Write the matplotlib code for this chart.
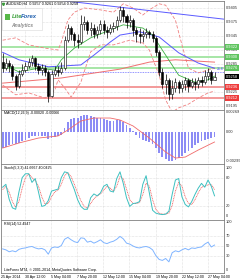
import matplotlib
matplotlib.use("Agg")
import matplotlib.pyplot as plt
from matplotlib.patches import Rectangle
from matplotlib.transforms import blended_transform_factory

plt.rcParams['font.family'] = ['Liberation Sans', 'DejaVu Sans']

# AUDUSD H4 - each candle here covers two H4 bars
first_open = 0.9290
closes = [0.9276, 0.9287, 0.9281, 0.9259, 0.9238, 0.9264, 0.9272, 0.9281, 0.9289, 0.9298,
          0.9281, 0.9272, 0.9276, 0.9268, 0.9216, 0.9264, 0.9272, 0.9268, 0.9276, 0.9336,
          0.9362, 0.9349, 0.9336, 0.9332, 0.9371, 0.9375, 0.9358, 0.9362, 0.9349, 0.9358,
          0.9371, 0.9358, 0.9354, 0.9362, 0.9366, 0.9379, 0.9401, 0.9388, 0.9375, 0.9379,
          0.9358, 0.9349, 0.9345, 0.9349, 0.9354, 0.9349, 0.9341, 0.9311, 0.9268, 0.9242,
          0.9251, 0.9221, 0.9234, 0.9246, 0.9234, 0.9242, 0.9251, 0.9238, 0.9246, 0.9242,
          0.9251, 0.9246, 0.9259, 0.9268, 0.9251, 0.9258]
highs = [0.9309, 0.9298, 0.9294, 0.9285, 0.9264, 0.9272, 0.9285, 0.9289, 0.9298, 0.9304,
         0.9300, 0.9287, 0.9285, 0.9283, 0.9272, 0.9272, 0.9281, 0.9281, 0.9289, 0.9345,
         0.9371, 0.9366, 0.9354, 0.9349, 0.9390, 0.9388, 0.9379, 0.9375, 0.9371, 0.9366,
         0.9379, 0.9379, 0.9366, 0.9371, 0.9375, 0.9388, 0.9409, 0.9407, 0.9392, 0.9390,
         0.9384, 0.9364, 0.9362, 0.9358, 0.9362, 0.9358, 0.9356, 0.9345, 0.9315, 0.9276,
         0.9264, 0.9255, 0.9251, 0.9255, 0.9251, 0.9251, 0.9257, 0.9255, 0.9255, 0.9255,
         0.9257, 0.9259, 0.9272, 0.9276, 0.9272, 0.9268]
lows = [0.9268, 0.9272, 0.9268, 0.9251, 0.9229, 0.9234, 0.9259, 0.9268, 0.9276, 0.9281,
        0.9272, 0.9264, 0.9261, 0.9259, 0.9204, 0.9214, 0.9259, 0.9259, 0.9264, 0.9272,
        0.9332, 0.9336, 0.9324, 0.9319, 0.9328, 0.9358, 0.9349, 0.9345, 0.9341, 0.9341,
        0.9349, 0.9349, 0.9341, 0.9349, 0.9354, 0.9358, 0.9375, 0.9375, 0.9362, 0.9364,
        0.9345, 0.9332, 0.9330, 0.9332, 0.9341, 0.9341, 0.9332, 0.9302, 0.9259, 0.9234,
        0.9221, 0.9208, 0.9210, 0.9225, 0.9223, 0.9225, 0.9229, 0.9225, 0.9234, 0.9229,
        0.9234, 0.9238, 0.9242, 0.9251, 0.9242, 0.9251]

# overlays: candle index -> price
ma_blue_k = [0, 5, 14, 24, 28, 33, 36, 42, 48, 54, 60, 65]
ma_blue = [0.9310, 0.9294, 0.9279, 0.9283, 0.9304, 0.9332, 0.9347, 0.9354, 0.9343, 0.9309, 0.9287, 0.9276]
ma_red_k = [0, 18, 36, 45, 53, 65]
ma_red = [0.9244, 0.9255, 0.9274, 0.9289, 0.9294, 0.9289]
ma_green_k = [0, 5, 11, 16, 18, 22, 27, 33, 37, 43, 46, 50, 54, 59, 63, 65]
ma_green = [0.9285, 0.9268, 0.9276, 0.9272, 0.9294, 0.9319, 0.9341, 0.9358, 0.9369, 0.9362,
            0.9347, 0.9304, 0.9261, 0.9246, 0.9251, 0.9259]
bb_up_k = [0, 4, 8, 13, 17, 18, 20, 22, 25, 30, 34, 37, 40, 43, 45, 48, 50, 53, 55, 57, 60, 63, 65]
bb_up = [0.9336, 0.9341, 0.9326, 0.9319, 0.9315, 0.9332, 0.9379, 0.9396, 0.9405, 0.9401, 0.9396,
         0.9414, 0.9405, 0.9390, 0.9401, 0.9414, 0.9411, 0.9379, 0.9326, 0.9276, 0.9266, 0.9272, 0.9276]
bb_lo_k = [0, 4, 8, 13, 16, 17, 19, 21, 24, 27, 30, 34, 39, 43, 45, 48, 50, 52, 54, 57, 60, 63, 65]
bb_lo = [0.9240, 0.9219, 0.9223, 0.9212, 0.9229, 0.9251, 0.9234, 0.9214, 0.9246, 0.9311, 0.9326,
         0.9326, 0.9336, 0.9330, 0.9315, 0.9261, 0.9208, 0.9182, 0.9191, 0.9199, 0.9212, 0.9223, 0.9227]
trend_k = [17, 68]
trend = [0.9422, 0.9381]

green_levels = [0.9322, 0.9300, 0.9276]
red_levels = [0.9236, 0.9212]
blue_level = 0.9268
last_price = 0.9258
price_ticks = [0.9405, 0.9375, 0.9345, 0.9315, 0.9285, 0.9225, 0.9195]

macd_hist = [-0.00167, -0.00157, -0.00136, -0.00126, -0.00126, -0.00116, -0.00096, -0.00086, -0.00066, -0.00045,
             -0.00045, -0.00045, -0.00045, -0.00045, -0.00076, -0.00066, -0.00056, -0.00045, -0.00035, 0.00035,
             0.00096, 0.00126, 0.00136, 0.00136, 0.00157, 0.00167, 0.00167, 0.00157, 0.00146, 0.00136,
             0.00136, 0.00126, 0.00116, 0.00106, 0.00106, 0.00116, 0.00116, 0.00096, 0.00066, 0.00035,
             0.00005, -0.00035, -0.00066, -0.00086, -0.00096, -0.00106, -0.00126, -0.00167, -0.00217, -0.00258,
             -0.00278, -0.00293, -0.00298, -0.00288, -0.00268, -0.00247, -0.00217, -0.00197, -0.00167, -0.00136,
             -0.00116, -0.00096, -0.00086, -0.00076, -0.00066, -0.00056]
macd_sig_k = [0, 5, 11, 17, 20, 24, 28, 33, 36, 40, 45, 50, 53, 56, 60, 65]
macd_sig = [-0.00167, -0.00116, -0.00066, -0.00045, 0.00015, 0.00106, 0.00136, 0.00136, 0.00116,
            0.00056, -0.00066, -0.00207, -0.00268, -0.00258, -0.00187, -0.00106]

stoch_main = [60, 66, 35, 17, 14, 50, 80, 88, 88, 70, 78, 50, 20, 22, 32, 52, 54, 56, 80, 92,
              90, 72, 55, 34, 20, 14, 14, 38, 46, 42, 48, 62, 66, 52, 50, 78, 92, 68, 38, 20,
              26, 27, 30, 66, 84, 48, 12, 6, 4, 3, 4, 10, 45, 75, 78, 40, 24, 19, 30, 45,
              58, 68, 60, 75, 62, 42]
stoch_sig = [55, 62, 50, 30, 18, 30, 58, 80, 88, 80, 74, 62, 40, 25, 26, 40, 50, 54, 66, 84,
             90, 82, 66, 48, 32, 20, 16, 26, 36, 42, 46, 54, 62, 58, 52, 62, 82, 78, 56, 34,
             26, 26, 28, 45, 68, 62, 34, 14, 6, 4, 4, 6, 22, 52, 70, 62, 40, 26, 24, 34,
             48, 60, 62, 65, 66, 55]
rsi = [44, 42, 38, 40, 38, 43, 45, 46, 48, 49, 46, 44, 45, 42, 33, 46, 48, 47, 51, 64,
       68, 63, 59, 57, 67, 66, 58, 60, 56, 59, 63, 57, 55, 58, 60, 64, 70, 65, 56, 54,
       50, 47, 46, 48, 49, 47, 42, 30, 22, 20, 24, 17, 36, 40, 38, 42, 45, 42, 46, 45,
       47, 48, 54, 58, 48, 52]

date_labels = ["25 Apr 2014", "30 Apr 12:00", "5 May 04:00", "7 May 20:00", "12 May 12:00",
               "15 May 04:00", "19 May 20:00", "22 May 12:00", "27 May 04:00"]


def kx(k):
    # candle index -> H4 bar position
    return [2 * i + 2.2 for i in k]


W, H = 240, 280
fig = plt.figure(figsize=(2.4, 2.8), dpi=100)
fig.patch.set_facecolor('white')


def px_axes(top, bottom):
    return fig.add_axes([1 / W, 1 - bottom / H, 223 / W, (bottom - top) / H])


ax = px_axes(1, 110)
ax_macd = px_axes(110, 164)
ax_sto = px_axes(164, 220)
ax_rsi = px_axes(220, 273)
axes = [ax, ax_macd, ax_sto, ax_rsi]

grid_x = [16 * j for j in range(1, 9)]
for a in axes:
    a.set_xlim(1.2, 138)
    a.set_xticks([])
    a.set_yticks([])
    for s in a.spines.values():
        s.set_color('#808080')
        s.set_linewidth(0.6)
    for gx in grid_x:
        a.axvline(gx, color='#c8c8c8', lw=0.4, ls=(0, (1, 1.5)), zorder=0)

fs = 2.9
right = lambda a: blended_transform_factory(a.transAxes, a.transData)

# ---- main price chart ----
ax.set_ylim(0.91864, 0.94200)
for t in price_ticks:
    ax.axhline(t, color='#c8c8c8', lw=0.4, ls=(0, (1, 1.5)), zorder=0)
    ax.text(1.008, t, f'{t:.4f}', transform=right(ax), fontsize=fs, va='center', ha='left',
            color='#333333', clip_on=False)
for lv in green_levels:
    ax.axhline(lv, color='#a6e6a6', lw=1.4, zorder=1)
    ax.text(1.008, lv, f'{lv:.4f}', transform=right(ax), fontsize=fs, va='center', ha='left',
            color='white', clip_on=False,
            bbox=dict(boxstyle='square,pad=0.2', fc='#5fc45f', ec='none'))
for lv in red_levels:
    ax.axhline(lv, color='#f39a9a', lw=1.4, zorder=1)
    ax.text(1.008, lv, f'{lv:.4f}', transform=right(ax), fontsize=fs, va='center', ha='left',
            color='white', clip_on=False,
            bbox=dict(boxstyle='square,pad=0.2', fc='#ee3b3b', ec='none'))
ax.axhline(blue_level, color='#6f6fff', lw=0.6, ls=(0, (1, 1)), zorder=1)
ax.text(133.5, blue_level + 0.0006, '21.6', fontsize=2.6, color='#4646ff', va='center')
ax.text(1.008, last_price, f'{last_price:.4f}', transform=right(ax), fontsize=fs, va='center',
        ha='left', color='white', clip_on=False,
        bbox=dict(boxstyle='square,pad=0.2', fc='black', ec='none'))

ax.plot(kx(bb_up_k), bb_up, color='#f08080', lw=0.6, ls=(0, (4, 2)), zorder=2)
ax.plot(kx(bb_lo_k), bb_lo, color='#f08080', lw=0.6, ls=(0, (4, 2)), zorder=2)
ax.plot(kx(ma_red_k), ma_red, color='#f07070', lw=0.7, zorder=2)
ax.plot(kx(ma_blue_k), ma_blue, color='#5a5aff', lw=0.7, zorder=2)
ax.plot(kx(ma_green_k), ma_green, color='#3cb043', lw=0.6, zorder=2)
ax.plot(kx(trend_k), trend, color='#5a5aff', lw=0.7, zorder=2)

opens = [first_open] + closes[:-1]
for i, (o, h, l, c) in enumerate(zip(opens, highs, lows, closes)):
    x = 2 * i + 2.2
    ax.vlines(x, l, h, color='black', lw=0.5, zorder=3)
    up = c >= o
    ax.add_patch(Rectangle((x - 0.65, min(o, c)), 1.3, max(abs(c - o), 0.00004),
                           fc='white' if up else 'black', ec='black', lw=0.4, zorder=4))

ax.text(5 / 223, 1 - 3 / 109, 'AUDUSD,H4  0.9257 0.9261 0.9254 0.9258', transform=ax.transAxes,
        fontsize=2.7, va='center', ha='left', color='black')
ax.plot([0.008], [1 - 3 / 109], transform=ax.transAxes, marker='v', ms=1.6, color='#3a9a3a',
        clip_on=False)

# logo
fig.patches.append(Rectangle((2 / W, 1 - 30 / H), 40 / W, 22 / H, transform=fig.transFigure,
                             fc='white', ec='#d8d8d8', lw=0.4, zorder=5))
fig.patches.append(Rectangle((5 / W, 1 - 20 / H), 5 / W, 6 / H, transform=fig.transFigure,
                             fc='#58b848', ec='none', zorder=6))
fig.text(11.5 / W, 1 - 16.5 / H, 'Lite', fontsize=4.2, color='#3aa03a', fontweight='bold',
         style='italic', va='center', ha='left', zorder=7)
fig.text(20.5 / W, 1 - 16.5 / H, 'Forex', fontsize=4.2, color='#1f5fae', fontweight='bold',
         style='italic', va='center', ha='left', zorder=7)
fig.text(22 / W, 1 - 25.5 / H, 'Analytics', fontsize=3.6, color='#8a8a8a', fontweight='bold',
         style='italic', va='center', ha='center', zorder=7)

# ---- MACD ----
ax_macd.set_ylim(-0.00328, 0.00217)
ax_macd.bar(kx(range(len(macd_hist))), macd_hist, width=1.1, color='#8c8cf5', lw=0, zorder=2)
ax_macd.plot(kx(macd_sig_k), macd_sig, color='#f06a6a', lw=0.6, zorder=3)
ax_macd.text(0.012, 0.94, 'MACD(12,26,9) -0.00020 -0.00066', transform=ax_macd.transAxes,
             fontsize=2.6, va='center', ha='left')
for v, t in [(0.00200, '0.00269'), (0.0, '0.00'), (-0.00299, '-0.00299')]:
    ax_macd.text(1.008, v, t, transform=right(ax_macd), fontsize=fs, va='center', ha='left',
                 color='#333333', clip_on=False)

# ---- Stochastic ----
ax_sto.set_ylim(-8.3, 108.3)
for lv in [80, 20]:
    ax_sto.axhline(lv, color='#c8c8c8', lw=0.4, ls=(0, (1, 1.5)), zorder=0)
ax_sto.plot(kx(range(len(stoch_main))), stoch_main, color='#3cc0c0', lw=0.7, zorder=3)
ax_sto.plot(kx(range(len(stoch_sig))), stoch_sig, color='#f06060', lw=0.6, ls=(0, (1.2, 0.8)), zorder=2)
ax_sto.text(0.012, 0.93, 'Stoch(5,3,3) 41.6667 40.0425', transform=ax_sto.transAxes,
            fontsize=2.6, va='center', ha='left')
for v in [100, 80, 20, 0]:
    ax_sto.text(1.008, v, str(v), transform=right(ax_sto), fontsize=fs, va='center', ha='left',
                color='#333333', clip_on=False)

# ---- RSI ----
ax_rsi.set_ylim(-6.25, 104.2)
for lv in [70, 50, 30]:
    ax_rsi.axhline(lv, color='#c8c8c8', lw=0.4, ls=(0, (1, 1.5)), zorder=0)
ax_rsi.plot(kx(range(len(rsi))), rsi, color='#7fb4ff', lw=0.7, zorder=3)
ax_rsi.text(0.012, 0.93, 'RSI(14) 52.4947', transform=ax_rsi.transAxes,
            fontsize=2.6, va='center', ha='left')
for v in [100, 70, 50, 30, 0]:
    ax_rsi.text(1.008, v, str(v), transform=right(ax_rsi), fontsize=fs, va='center', ha='left',
                color='#333333', clip_on=False)
ax_rsi.text(0.012, 0.06, 'LiteForex MT4, \u00a9 2001-2014, MetaQuotes Software Corp.',
            transform=ax_rsi.transAxes, fontsize=2.6, va='center', ha='left')

# date labels
tick_pos = [1.2] + grid_x
for p, lab in zip(tick_pos, date_labels):
    ax_rsi.text(p, -0.07, lab, transform=blended_transform_factory(ax_rsi.transData, ax_rsi.transAxes),
                fontsize=2.6, va='center', ha='left', clip_on=False)

fig.savefig('out.png', dpi=100)
